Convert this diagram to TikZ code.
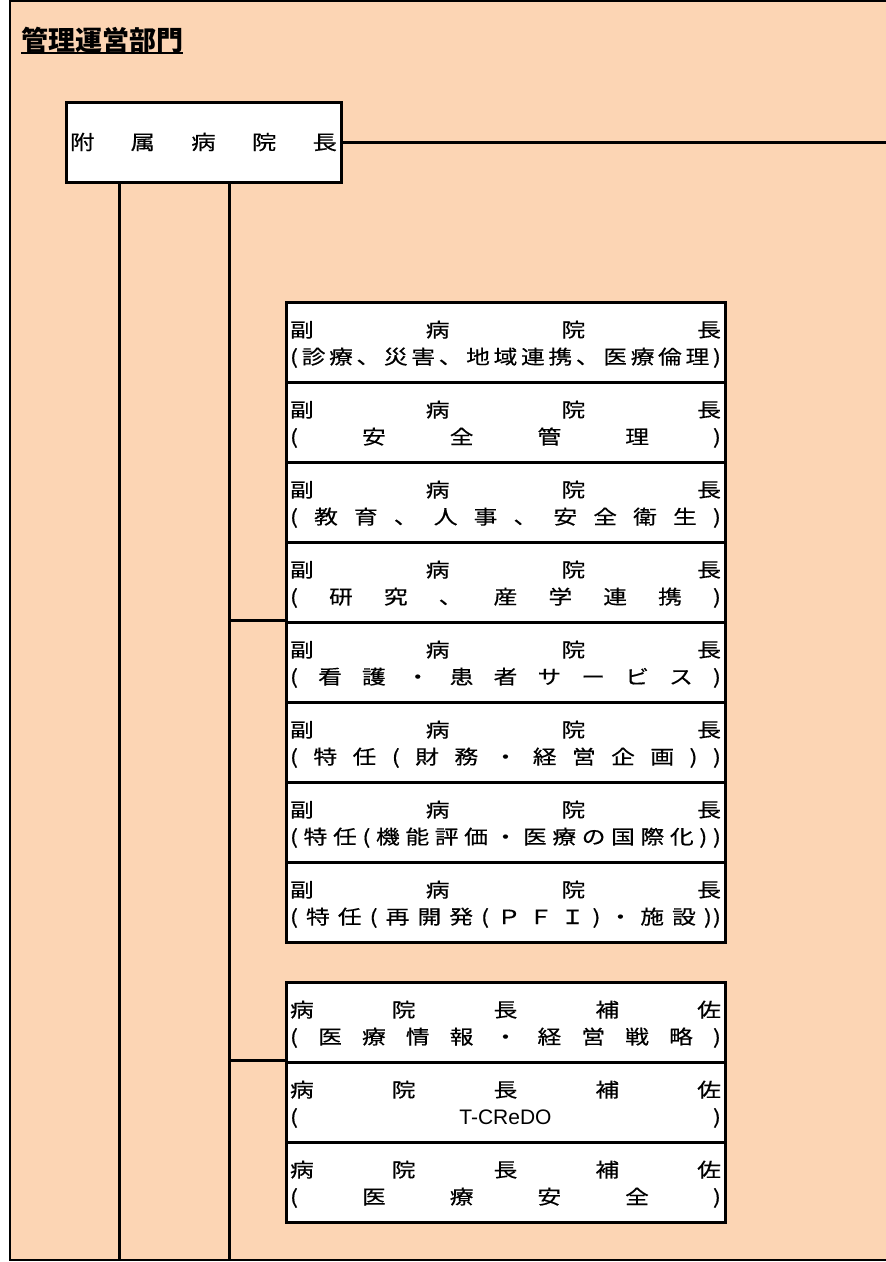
\documentclass[tikz,border=0pt]{standalone}
\usepackage{fontspec}
\newfontfamily\jp{Noto Sans CJK JP}
\newfontfamily\jpw[FakeStretch=1.22,FakeBold=0.4]{Noto Sans CJK JP}
\newfontfamily\lat{Liberation Sans}
\definecolor{peach}{RGB}{252,213,180}
\newcommand\hf{\hfill}
\newcommand\twolines[2]{\vbox to 80pt{\offinterlineskip
  \hbox to 431pt{\vrule height 35pt depth 0pt width 0pt #1}\vskip-\prevdepth
  \hbox to 431pt{\vrule height 27pt depth 0pt width 0pt #2}\vss}}
\tikzset{
  frameline/.style={line width=2.5pt},
  conn/.style={line width=3pt},
  headbox/.style={draw, fill=white, line width=3pt, inner sep=0pt, minimum width=275pt,
    minimum height=80pt, anchor=north west, font=\jpw\fontsize{20}{20}\selectfont},
  rolebox/.style={draw, fill=white, line width=3pt, inner sep=0pt, minimum width=439pt,
    minimum height=80pt, anchor=north west, font=\jpw\fontsize{19.5}{19.5}\selectfont},
  titletext/.style={anchor=base west, inner sep=0pt, font=\jp\bfseries\fontsize{27}{27}\selectfont},
}
\begin{document}
\begin{tikzpicture}[x=1pt, y=-1pt]
\useasboundingbox (0,0) rectangle (886,1262);
\fill[white] (0,0) rectangle (886,1262);
\fill[peach] (10,1) rectangle (886,1260);
\draw[frameline] (886,1) -- (10,1) -- (10,1260) -- (886,1260);

\node[titletext] (title) at (21,50) {管理運営部門};
\draw[line width=1.7pt] ([yshift=-3pt]title.base west) -- ([yshift=-3pt]title.base east);

\node[headbox] (head) at (64.5,100.5) {\raisebox{-1.5pt}{\hbox to 267pt{附\hf 属\hf 病\hf 院\hf 長}}};

\coordinate (b1) at (119.5,1260);
\coordinate (b2) at (229.5,1260);
\coordinate (re) at (886,0);

\node[rolebox] (v1) at (284.5,300.5) {\twolines{副\hf 病\hf 院\hf 長}{(\hf 診\hf 療\hf 、\hf 災\hf 害\hf 、\hf 地\hf 域\hf 連\hf 携\hf 、\hf 医\hf 療\hf 倫\hf 理\hf )}};
\node[rolebox] (v2) at (284.5,380.5) {\twolines{副\hf 病\hf 院\hf 長}{(\hf 安\hf 全\hf 管\hf 理\hf )}};
\node[rolebox] (v3) at (284.5,460.5) {\twolines{副\hf 病\hf 院\hf 長}{(\hf 教\hf 育\hf 、\hf 人\hf 事\hf 、\hf 安\hf 全\hf 衛\hf 生\hf )}};
\node[rolebox] (v4) at (284.5,540.5) {\twolines{副\hf 病\hf 院\hf 長}{(\hf 研\hf 究\hf 、\hf 産\hf 学\hf 連\hf 携\hf )}};
\node[rolebox] (v5) at (284.5,620.5) {\twolines{副\hf 病\hf 院\hf 長}{(\hf 看\hf 護\hf ・\hf 患\hf 者\hf サ\hf ー\hf ビ\hf ス\hf )}};
\node[rolebox] (v6) at (284.5,700.5) {\twolines{副\hf 病\hf 院\hf 長}{(\hf 特\hf 任\hf (\hf 財\hf 務\hf ・\hf 経\hf 営\hf 企\hf 画\hf )\hf )}};
\node[rolebox] (v7) at (284.5,780.5) {\twolines{副\hf 病\hf 院\hf 長}{(\hf 特\hf 任\hf (\hf 機\hf 能\hf 評\hf 価\hf ・\hf 医\hf 療\hf の\hf 国\hf 際\hf 化\hf )\hf )}};
\node[rolebox] (v8) at (284.5,860.5) {\twolines{副\hf 病\hf 院\hf 長}{(\hf 特\hf 任\hf (\hf 再\hf 開\hf 発\hf (\hf Ｐ\hf Ｆ\hf Ｉ\hf )\hf ・\hf 施\hf 設\hf )\kern1pt)}};

\node[rolebox] (a1) at (284.5,980.5) {\twolines{病\hf 院\hf 長\hf 補\hf 佐}{(\hf 医\hf 療\hf 情\hf 報\hf ・\hf 経\hf 営\hf 戦\hf 略\hf )}};
\node[rolebox] (a2) at (284.5,1060.5) {\twolines{病\hf 院\hf 長\hf 補\hf 佐}{(\hf {\lat\fontsize{21}{21}\selectfont T-CReDO}\hf )}};
\node[rolebox] (a3) at (284.5,1140.5) {\twolines{病\hf 院\hf 長\hf 補\hf 佐}{(\hf 医\hf 療\hf 安\hf 全\hf )}};

\draw[conn] (head.east) -- (head.east -| re);
\draw[conn] (head.south -| b1) -- (b1);
\draw[conn] (head.south -| b2) -- (b2);
\draw[conn] (v5.north west -| b2) -- (v5.north west);
\draw[conn] (a2.north west -| b2) -- (a2.north west);
\end{tikzpicture}
\end{document}
